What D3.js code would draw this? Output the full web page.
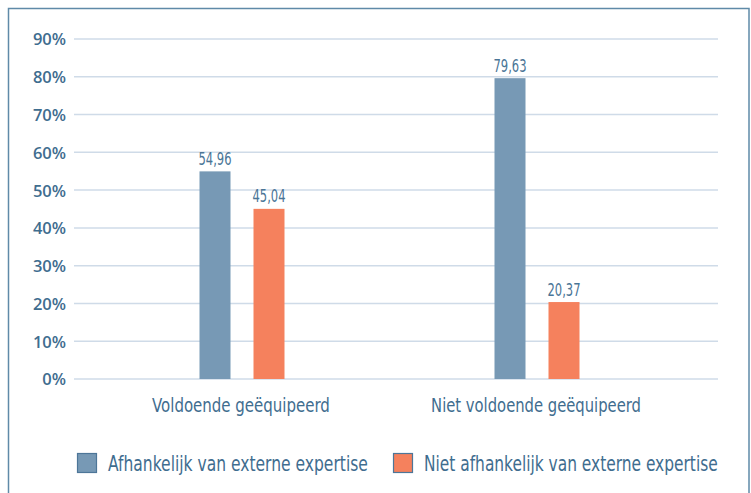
<!DOCTYPE html>
<html><head><meta charset="utf-8">
<script src="https://cdn.jsdelivr.net/npm/d3@7"></script>
<style>
body{margin:0;background:#fff;}
svg{display:block;}
</style></head>
<body>
<script>
const categories = ["Voldoende geëquipeerd", "Niet voldoende geëquipeerd"];
const seriesNames = ["Afhankelijk van externe expertise", "Niet afhankelijk van externe expertise"];
const afhankelijk = [54.96, 79.63];
const nietAfhankelijk = [45.04, 20.37];
const valueLabels = [["54,96", "79,63"], ["45,04", "20,37"]];
const yTicks = [0, 10, 20, 30, 40, 50, 60, 70, 80, 90];
const colors = ["#7799b5", "#f5815d"];

const W = 751, H = 493;
const svg = d3.select("body").append("svg").attr("width", W).attr("height", H);
const textColor = "#3f6d8f";
const condensed = "'DejaVu Sans Condensed','Liberation Sans Narrow',sans-serif";

// horizontally compress a text (x = 0 in its own coords) to a target width, imitating a narrow typeface
function squeeze(node, target, tx, ty) {
  const w0 = node.getComputedTextLength();
  const s = target / w0;
  d3.select(node).attr("x", 0).attr("transform", `translate(${tx},${ty}) scale(${s},1)`);
}

// frame
svg.append("rect").attr("x", 8.5).attr("y", 8.5).attr("width", 740.5).attr("height", 500)
  .attr("fill", "none").attr("stroke", "#5f8aa8").attr("stroke-width", 1.5);

const y = d3.scaleLinear().domain([0, 90]).range([379, 39]);
const x0 = d3.scaleBand().domain(categories).range([94.5, 684.5]);
const x1 = d3.scaleBand().domain([0, 1]).range([-42.5, 42.5]).paddingInner(23 / 54);

// grid
const grid = svg.append("g");
grid.selectAll("line").data(yTicks).join("line")
  .attr("x1", 74).attr("x2", 718)
  .attr("y1", d => y(d)).attr("y2", d => y(d))
  .attr("stroke", "#cfdbe8").attr("stroke-width", 1.5);

// y axis
const yAxis = d3.axisLeft(y).tickValues(yTicks).tickFormat(d => d + "%").tickSize(0).tickPadding(0);
const ya = svg.append("g").attr("transform", "translate(66,0)").call(yAxis);
ya.select(".domain").remove();
ya.selectAll("text").attr("fill", textColor).attr("font-family", "'Open Sans',sans-serif")
  .attr("font-weight", "600").attr("font-size", "16.5px").attr("dy", "0.36em");

// x axis labels
const xLabelWidths = [178, 210];
const xAxis = d3.axisBottom(x0).tickSize(0).tickPadding(0);
const xa = svg.append("g").attr("transform", "translate(-1,412)").call(xAxis);
xa.select(".domain").remove();
xa.selectAll("text").attr("fill", textColor).attr("font-family", condensed)
  .attr("font-size", "19.5px").attr("y", 0).attr("dy", 0)
  .each(function (d, i) { squeeze(this, xLabelWidths[i], 0, 0); });

const valueWidth = 33;
const series = [afhankelijk, nietAfhankelijk];
series.forEach((vals, si) => {
  const g = svg.append("g");
  g.selectAll("rect").data(categories).join("rect")
    .attr("x", (c) => x0(c) + x0.bandwidth() / 2 + x1(si))
    .attr("width", x1.bandwidth())
    .attr("y", (c, i) => y(vals[i]))
    .attr("height", (c, i) => y(0) - y(vals[i]))
    .attr("fill", colors[si]);
  g.selectAll("text").data(categories).join("text")
    .attr("text-anchor", "middle")
    .attr("fill", "#4a7596").attr("font-family", condensed).attr("font-size", "17.5px")
    .text((c, i) => valueLabels[si][i])
    .each(function (c, i) {
      squeeze(this, valueWidth,
        x0(c) + x0.bandwidth() / 2 + x1(si) + x1.bandwidth() / 2,
        y(vals[i]) - 6.5);
    });
});

// legend
const legendX = [77, 393];
const legendWidths = [260, 294];
seriesNames.forEach((name, i) => {
  svg.append("rect").attr("x", legendX[i] + 0.5).attr("y", 453.5).attr("width", 19).attr("height", 19)
    .attr("fill", colors[i]).attr("stroke", "#4d7698").attr("stroke-width", 1.2);
  const t = svg.append("text")
    .attr("fill", textColor).attr("font-family", condensed).attr("font-size", "21px")
    .text(name);
  squeeze(t.node(), legendWidths[i], legendX[i] + 31, 471);
});
</script>
</body></html>
